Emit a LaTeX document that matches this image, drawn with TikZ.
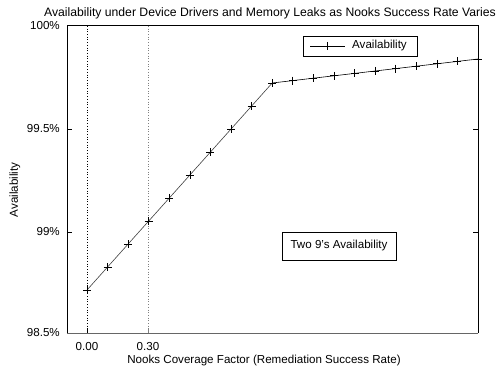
\documentclass[tikz,border=0pt]{standalone}
\usepackage{fontspec}
\setmainfont{Liberation Sans}
\begin{document}
\begin{tikzpicture}[x=1pt,y=-1pt,font=\fontsize{11.6}{13}\selectfont,
  mk/.style={line width=0.7pt},
  frame/.style={line width=1pt},
  lbl/.style={inner sep=0pt}]
\useasboundingbox (0,0) rectangle (503,366);
% guide lines
\draw[dotted,line width=0.7pt] (87,26) -- (87,333);
\draw[dotted,line width=0.7pt,gray] (148,26) -- (148,333);
% frame
\draw[frame] (478,333) -- (478,26) -- (67,26) -- (67,333);
\draw[frame,gray!80!black] (67,333) -- (478,333);
% ticks
\foreach \yy in {129,232}{
  \draw[line width=0.6pt] (67,\yy) -- (72,\yy);
  \draw[line width=0.6pt] (478,\yy) -- (473,\yy);
}
\draw[line width=0.6pt] (87,333) -- (87,328);
\draw[line width=0.6pt,gray] (148,333) -- (148,328);
% data
\draw[line width=0.6pt,black!75] (87,290) \foreach \i in {1,...,9}{ -- ({87+20.58*\i},{290-23*\i}) };
\draw[line width=0.6pt] (272.2,83) \foreach \i in {10,...,19}{ -- ({87+20.58*\i},{83-2.4*(\i-9)}) };
\foreach \i in {0,...,9}{
  \draw[mk] ({87+20.58*\i-4},{290-23*\i}) -- ++(8,0) ({87+20.58*\i},{290-23*\i-4}) -- ++(0,8);
}
\foreach \i in {10,...,19}{
  \draw[mk] ({87+20.58*\i-4},{83-2.4*(\i-9)}) -- ++(8,0) ({87+20.58*\i},{83-2.4*(\i-9)-4}) -- ++(0,8);
}
% labels
\node[lbl,font=\fontsize{12.2}{14}\selectfont] (title) at (270,13) {Availability under Device Drivers and Memory Leaks as Nooks Success Rate Varies};
\node[lbl,anchor=east] (t100) at (60,26) {100\%};
\node[lbl,anchor=east] (t995) at (60,129) {99.5\%};
\node[lbl,anchor=east] (t99) at (60,232) {99\%};
\node[lbl,anchor=east] (t985) at (60,333) {98.5\%};
\node[lbl] (x0) at (87,347) {0.00};
\node[lbl] (x3) at (148,347) {0.30};
\node[lbl] (xlab) at (264,360) {Nooks Coverage Factor (Remediation Success Rate)};
\node[lbl,rotate=90] (ylab) at (15,190) {Availability};
% legend
\node[draw,line width=0.6pt,minimum width=114pt,minimum height=20pt,inner sep=0pt] (leg) at (360,46) {};
\draw[line width=0.6pt] (310,46) -- (345,46);
\draw[mk] (323,46) -- ++(8,0) (327,42) -- ++(0,8);
\node[lbl,anchor=west] (legtxt) at (352,46) {Availability};
% annotation
\node[draw,line width=0.6pt,minimum width=114pt,minimum height=28pt,inner sep=0pt] (two) at (339,246) {Two 9{\char"0027}s Availability};
\end{tikzpicture}
\end{document}
